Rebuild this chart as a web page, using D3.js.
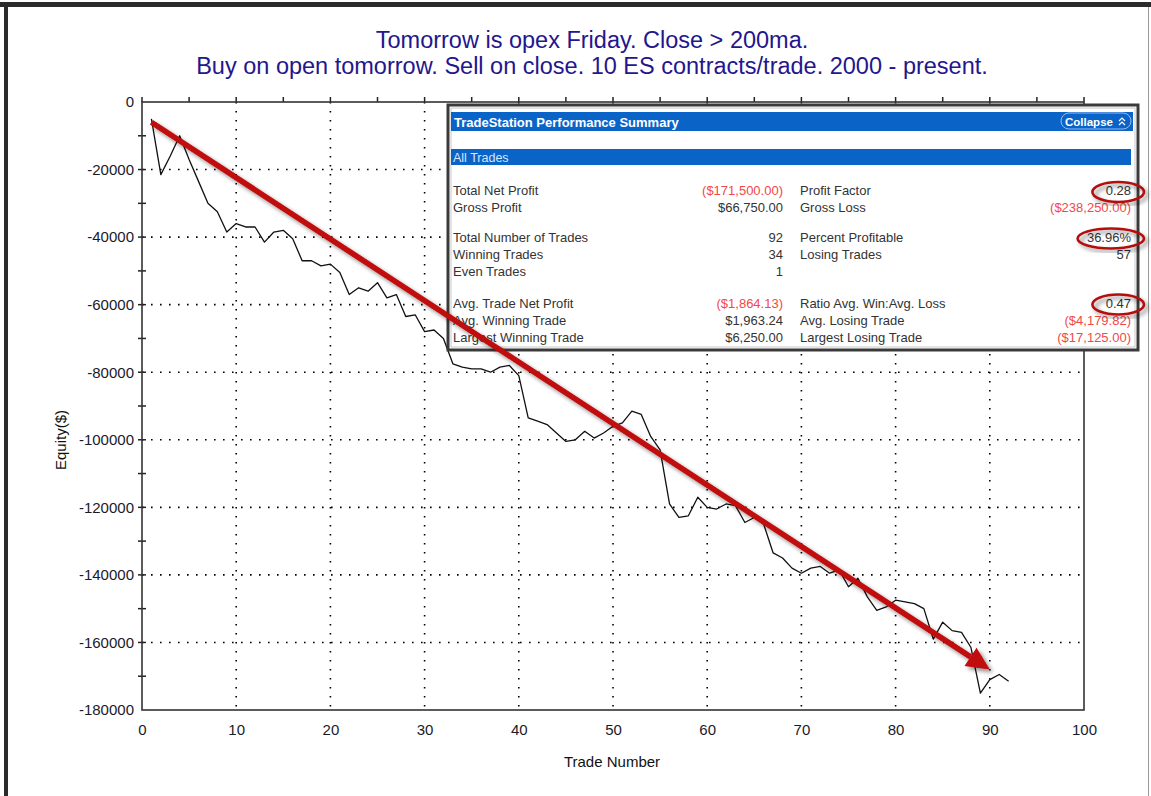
<!DOCTYPE html>
<html>
<head>
<meta charset="utf-8">
<script src="https://cdn.jsdelivr.net/npm/d3@7"></script>
<style>
  html, body { margin: 0; padding: 0; background: #fff; }
  svg { display: block; }
</style>
</head>
<body>
<svg id="chart" width="1151" height="796"></svg>
<script>
// ---------------- DATA ----------------
const titleLines = [
  "Tomorrow is opex Friday. Close > 200ma.",
  "Buy on open tomorrow. Sell on close. 10 ES contracts/trade. 2000 - present."
];
const tradeNumbers = d3.range(1, 93);
const equity = [
  -5000, -21500, -16000, -10000, -17000, -23500, -30000, -32500, -38500, -36000,
  -37000, -37000, -41500, -38500, -38000, -40500, -47000, -47000, -48500, -48000,
  -50500, -57000, -55000, -56000, -53500, -58000, -57000, -63500, -63000, -68000,
  -67500, -70000, -77500, -78500, -79000, -79000, -80000, -78500, -78000, -81000,
  -93500, -94500, -95500, -98000, -100500, -100000, -97500, -99500, -98000, -96000,
  -95000, -91500, -92500, -99000, -103000, -119000, -123000, -122500, -117000, -120000,
  -120500, -119000, -119500, -124500, -123000, -125000, -133500, -135000, -138000, -139500,
  -138000, -137500, -139500, -138500, -143500, -141000, -146500, -150500, -149500, -147500,
  -148000, -148500, -150000, -159000, -154000, -156500, -157000, -161500, -175000, -171000,
  -169500, -171500
];
const xTickValues = [0, 10, 20, 30, 40, 50, 60, 70, 80, 90, 100];
const yTickValues = [0, -20000, -40000, -60000, -80000, -100000, -120000, -140000, -160000, -180000];
const xLabel = "Trade Number";
const yLabel = "Equity($)";

const arrowStart = [1, -6000];
const arrowEnd = [90, -168000];

const summaryTitle = "TradeStation Performance Summary";
const summaryCollapse = "Collapse";
const summarySection = "All Trades";
const statLabelsL = ["Total Net Profit", "Gross Profit", "Total Number of Trades", "Winning Trades", "Even Trades", "Avg. Trade Net Profit", "Avg. Winning Trade", "Largest Winning Trade"];
const statValuesL = ["($171,500.00)", "$66,750.00", "92", "34", "1", "($1,864.13)", "$1,963.24", "$6,250.00"];
const statLabelsR = ["Profit Factor", "Gross Loss", "Percent Profitable", "Losing Trades", "", "Ratio Avg. Win:Avg. Loss", "Avg. Losing Trade", "Largest Losing Trade"];
const statValuesR = ["0.28", "($238,250.00)", "36.96%", "57", "", "0.47", "($4,179.82)", "($17,125.00)"];
const circledStats = ["0.28", "36.96%", "0.47"];

// ---------------- LAYOUT ----------------
const svg = d3.select("#chart");
const W = 1151, H = 796;
const plot = { left: 142, right: 1084, top: 102, bottom: 710 };

const x = d3.scaleLinear().domain([0, 100]).range([plot.left, plot.right]);
const y = d3.scaleLinear().domain([-180000, 0]).range([plot.bottom, plot.top]);

const defs = svg.append("defs");
const sh = defs.append("filter").attr("id", "shadow").attr("x", "-20%").attr("y", "-20%").attr("width", "140%").attr("height", "140%");
sh.append("feGaussianBlur").attr("in", "SourceAlpha").attr("stdDeviation", 2.2).attr("result", "b");
sh.append("feOffset").attr("in", "b").attr("dx", 3).attr("dy", 3).attr("result", "o");
sh.append("feComponentTransfer").attr("in", "o").attr("result", "o2")
  .append("feFuncA").attr("type", "linear").attr("slope", 0.45);
const fm = sh.append("feMerge");
fm.append("feMergeNode").attr("in", "o2");
fm.append("feMergeNode").attr("in", "SourceGraphic");

// background + outer frame
svg.append("rect").attr("width", W).attr("height", H).attr("fill", "#fff");
svg.append("rect").attr("x", 0).attr("y", 2).attr("width", 1151).attr("height", 5).attr("fill", "#2b2b2b");
svg.append("rect").attr("x", 4).attr("y", 2).attr("width", 4).attr("height", H).attr("fill", "#2b2b2b");
svg.append("line").attr("x1", 1148.5).attr("x2", 1148.5).attr("y1", 7).attr("y2", H).attr("stroke", "#999").attr("stroke-width", 1);

// title
svg.append("g").selectAll("text").data(titleLines).join("text")
  .attr("x", 592).attr("y", (d, i) => 48 + i * 26)
  .attr("text-anchor", "middle")
  .attr("font-family", "'Liberation Sans', Arial, sans-serif")
  .attr("font-size", 23.5)
  .attr("fill", "#24168c")
  .text(d => d);

// grid
const gridStyle = g => g.attr("stroke", "#000").attr("stroke-width", 1.6).attr("stroke-dasharray", "1.6,7.4");
svg.append("g").selectAll("line").data(xTickValues.filter(v => v > 0 && v < 100)).join("line")
  .attr("x1", d => x(d)).attr("x2", d => x(d)).attr("y1", plot.top).attr("y2", plot.bottom)
  .call(gridStyle);
svg.append("g").selectAll("line").data(yTickValues.filter(v => v < 0 && v > -180000)).join("line")
  .attr("x1", plot.left).attr("x2", plot.right).attr("y1", d => y(d)).attr("y2", d => y(d))
  .call(gridStyle);

// axes
const xAxis = d3.axisBottom(x).tickValues(xTickValues).tickSize(0).tickPadding(14).tickFormat(d3.format("d"));
const gx = svg.append("g").attr("transform", `translate(0,${plot.bottom})`).call(xAxis);
const yAxis = d3.axisLeft(y).tickValues(yTickValues).tickSize(0).tickPadding(8).tickFormat(d => String(d));
const gy = svg.append("g").attr("transform", `translate(${plot.left},0)`).call(yAxis);
[gx, gy].forEach(g => {
  g.select(".domain").remove();
  g.selectAll("text").attr("font-family", "'Liberation Sans', Arial, sans-serif").attr("font-size", 15).attr("fill", "#1a1a2a");
});

// minor ticks
svg.append("g").selectAll("line").data(d3.range(0, 100.1, 5)).join("line")
  .attr("x1", d => x(d)).attr("x2", d => x(d)).attr("y1", plot.top - 5).attr("y2", plot.top)
  .attr("stroke", "#222").attr("stroke-width", 1.5);
svg.append("g").selectAll("line").data(d3.range(-170000, 0, 10000)).join("line")
  .attr("x1", plot.left - 4).attr("x2", plot.left + 4).attr("y1", d => y(d)).attr("y2", d => y(d))
  .attr("stroke", "#222").attr("stroke-width", 1.5);

// frame of plot
svg.append("rect").attr("x", plot.left).attr("y", plot.top)
  .attr("width", plot.right - plot.left).attr("height", plot.bottom - plot.top)
  .attr("fill", "none").attr("stroke", "#333").attr("stroke-width", 1.6);

// axis titles
svg.append("text").attr("x", 612).attr("y", 767).attr("text-anchor", "middle")
  .attr("font-family", "'Liberation Sans', Arial, sans-serif").attr("font-size", 15).attr("fill", "#111")
  .text(xLabel);
svg.append("text").attr("transform", "translate(66,440) rotate(-90)").attr("text-anchor", "middle")
  .attr("font-family", "'Liberation Sans', Arial, sans-serif").attr("font-size", 15).attr("fill", "#111")
  .text(yLabel);

// equity line
const line = d3.line().x((d, i) => x(tradeNumbers[i])).y(d => y(d));
svg.append("path").datum(equity).attr("d", line)
  .attr("fill", "none").attr("stroke", "#111").attr("stroke-width", 1.3).attr("stroke-linejoin", "round");

// ---------------- SUMMARY BOX ----------------
const bx = 448, by = 105, bw = 690, bh = 245;
const box = svg.append("g");
box.append("rect").attr("x", bx).attr("y", by).attr("width", bw).attr("height", bh)
  .attr("fill", "#fff").attr("stroke", "#3a3a3a").attr("stroke-width", 3);
box.append("rect").attr("x", bx + 3).attr("y", by + 3).attr("width", bw - 6).attr("height", bh - 6)
  .attr("fill", "none").attr("stroke", "#c8c8c8").attr("stroke-width", 1);
box.append("rect").attr("x", 451).attr("y", 112).attr("width", 682).attr("height", 19).attr("fill", "#0a64c8");
box.append("text").attr("x", 454).attr("y", 126.5)
  .attr("font-family", "'Liberation Sans', Arial, sans-serif").attr("font-size", 13).attr("font-weight", "bold")
  .attr("fill", "#fff").text(summaryTitle);
box.append("rect").attr("x", 1061).attr("y", 113).attr("width", 70).attr("height", 16).attr("rx", 8)
  .attr("fill", "none").attr("stroke", "#9ab8f0").attr("stroke-width", 1);
box.append("text").attr("x", 1065).attr("y", 125.5)
  .attr("font-family", "'Liberation Sans', Arial, sans-serif").attr("font-size", 11.5).attr("font-weight", "bold")
  .attr("fill", "#fff").text(summaryCollapse);
box.append("path").attr("d", "M1119,121 l3,-3 l3,3 M1119,125 l3,-3 l3,3")
  .attr("fill", "none").attr("stroke", "#fff").attr("stroke-width", 1.2);
box.append("rect").attr("x", 451).attr("y", 149).attr("width", 680).attr("height", 16).attr("fill", "#0a64c8");
box.append("text").attr("x", 453).attr("y", 162)
  .attr("font-family", "'Liberation Sans', Arial, sans-serif").attr("font-size", 12.5)
  .attr("fill", "#d8e6ff").text(summarySection);

const rowY = [192, 209, 238.5, 255.5, 272.5, 304.5, 321.5, 338.5];
const statFont = "'Liberation Sans', Arial, sans-serif";
const red = "#f24848";
const rows = box.append("g").attr("font-family", statFont).attr("font-size", 13).attr("dominant-baseline", "middle");
rows.selectAll(".ll").data(statLabelsL).join("text").attr("class", "ll")
  .attr("x", 453).attr("y", (d, i) => rowY[i]).attr("fill", "#333").text(d => d);
rows.selectAll(".lv").data(statValuesL).join("text").attr("class", "lv")
  .attr("x", 783).attr("y", (d, i) => rowY[i]).attr("text-anchor", "end")
  .attr("fill", d => d.startsWith("(") ? red : "#333").text(d => d);
rows.selectAll(".rl").data(statLabelsR).join("text").attr("class", "rl")
  .attr("x", 800).attr("y", (d, i) => rowY[i]).attr("fill", "#333").text(d => d);
rows.selectAll(".rv").data(statValuesR).join("text").attr("class", "rv")
  .attr("x", 1131).attr("y", (d, i) => rowY[i]).attr("text-anchor", "end")
  .attr("fill", d => d.startsWith("(") ? red : "#333").text(d => d);

// circles around key stats
const circled = statValuesR.map((v, i) => ({ v, i })).filter(d => circledStats.includes(d.v));
box.append("g").selectAll("ellipse").data(circled).join("ellipse")
  .attr("cx", d => 1131 - d.v.length * 3.7 + 2)
  .attr("cy", d => rowY[d.i])
  .attr("rx", d => d.v.length * 3.7 + 11)
  .attr("ry", 10)
  .attr("fill", "none").attr("stroke", "#b31010").attr("stroke-width", 2.6)
  .attr("filter", "url(#shadow)");

// ---------------- ARROW ----------------
const ax0 = x(arrowStart[0]), ay0 = y(arrowStart[1]);
const ax1 = x(arrowEnd[0]), ay1 = y(arrowEnd[1]);
const ang = Math.atan2(ay1 - ay0, ax1 - ax0);
const headLen = 23, headHalf = 11;
const bxh = ax1 - headLen * Math.cos(ang), byh = ay1 - headLen * Math.sin(ang);
const arrow = svg.append("g").attr("filter", "url(#shadow)");
arrow.append("line").attr("x1", ax0).attr("y1", ay0).attr("x2", bxh).attr("y2", byh)
  .attr("stroke", "#c00808").attr("stroke-width", 5.5);
arrow.append("path")
  .attr("d", `M${ax1},${ay1} L${bxh + headHalf * Math.sin(ang)},${byh - headHalf * Math.cos(ang)} L${bxh - headHalf * Math.sin(ang)},${byh + headHalf * Math.cos(ang)} Z`)
  .attr("fill", "#c00808");
</script>
</body>
</html>
